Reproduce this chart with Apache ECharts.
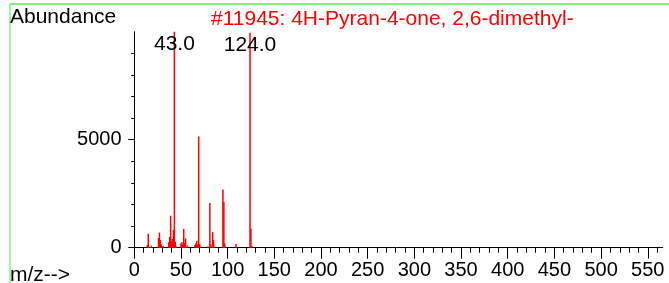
<!DOCTYPE html>
<html>
<head>
<meta charset="utf-8">
<script src="https://cdn.jsdelivr.net/npm/echarts@6/dist/echarts.min.js"></script>
<style>
  html, body { margin: 0; padding: 0; background: #fff; }
  #chart { width: 669px; height: 283px; }
</style>
</head>
<body>
<div id="chart"></div>
<script>
// spectrum peaks (m/z and abundance)
const mzValues = [14, 15, 18, 26, 27, 28, 29, 31, 37, 38, 39, 40, 41, 42, 43, 44, 45,
  50, 51, 52, 53, 54, 55, 57, 65, 66, 67, 68, 69, 70, 71, 79, 81, 82, 84, 85,
  95, 96, 97, 109, 124, 125, 126];
const abundance = [120, 650, 90, 450, 700, 350, 150, 80, 250, 500, 1480, 300, 400, 820, 9999, 280, 60,
  200, 250, 150, 870, 200, 430, 100, 120, 200, 310, 130, 5150, 180, 60, 60, 2070, 150, 720, 350,
  2700, 2130, 200, 170, 9950, 880, 80];
const labelledPeaks = [43, 124];

const xMajorTicks = [0, 50, 100, 150, 200, 250, 300, 350, 400, 450, 500, 550];
const xMinorTicks = [];
for (let v = 10; v <= 560; v += 10) {
  if (v % 50 !== 0) xMinorTicks.push(v);
}
const yTickLabels = [0, 5000];

const titleText = "#11945: 4H-Pyran-4-one, 2,6-dimethyl-";
const font = "Liberation Sans";

const chart = echarts.init(document.getElementById("chart"));

const peakData = mzValues.map((mz, i) => {
  const item = { value: [mz, abundance[i]] };
  if (labelledPeaks.includes(mz)) {
    item.label = {
      show: true,
      position: "insideTop",
      distance: 2,
      formatter: mz.toFixed(1),
      color: "#000",
      fontSize: 21,
      fontFamily: font
    };
  }
  return item;
});

const option = {
  animation: false,
  backgroundColor: "#fff",
  grid: {
    left: 130.5,
    right: 6.3,
    top: 31.7,
    bottom: 35.3,
    outerBoundsMode: "none"
  },
  xAxis: [
    {
      type: "value",
      position: "bottom",
      min: -4,
      max: 566,
      splitLine: { show: false },
      axisLine: { lineStyle: { color: "#000", width: 1 } },
      axisTick: {
        customValues: xMajorTicks,
        length: 11,
        lineStyle: { color: "#000", width: 1 }
      },
      axisLabel: {
        customValues: xMajorTicks,
        color: "#000",
        fontSize: 20,
        fontFamily: font,
        margin: 13,
        formatter: v => String(v)
      }
    },
    {
      type: "value",
      position: "bottom",
      min: -4,
      max: 566,
      splitLine: { show: false },
      axisLine: { show: false },
      axisTick: {
        customValues: xMinorTicks,
        length: 5,
        lineStyle: { color: "#000", width: 1 }
      },
      axisLabel: { show: false }
    }
  ],
  yAxis: {
    type: "value",
    min: 0,
    max: 10000,
    interval: 5000,
    splitLine: { show: false },
    axisLine: { show: true, lineStyle: { color: "#000", width: 1 } },
    axisTick: {
      show: true,
      customValues: yTickLabels,
      length: 6,
      lineStyle: { color: "#000", width: 1 }
    },
    minorTick: {
      show: true,
      splitNumber: 5,
      length: 3,
      lineStyle: { color: "#000", width: 1 }
    },
    axisLabel: {
      customValues: yTickLabels,
      color: "#000",
      fontSize: 20,
      fontFamily: font,
      margin: 9,
      formatter: v => String(v)
    }
  },
  series: [
    {
      type: "bar",
      xAxisIndex: 0,
      barWidth: 1.5,
      itemStyle: { color: "#ff0000" },
      data: peakData
    }
  ],
  graphic: [
    {
      type: "line",
      shape: { x1: 10, y1: 4, x2: 669, y2: 4 },
      style: { stroke: "#80f080", lineWidth: 2 },
      silent: true
    },
    {
      type: "line",
      shape: { x1: 10, y1: 4, x2: 10, y2: 283 },
      style: { stroke: "#80f080", lineWidth: 1.5 },
      silent: true
    },
    {
      type: "text",
      left: 10,
      top: 7,
      style: { text: "Abundance", fill: "#000", fontSize: 21, fontFamily: font }
    },
    {
      type: "text",
      left: 211,
      top: 9,
      style: { text: titleText, fill: "#ff0000", fontSize: 21, fontFamily: font }
    },
    {
      type: "text",
      left: 10,
      top: 265,
      style: { text: "m/z-->", fill: "#000", fontSize: 21, fontFamily: font }
    }
  ]
};

chart.setOption(option);
</script>
</body>
</html>
